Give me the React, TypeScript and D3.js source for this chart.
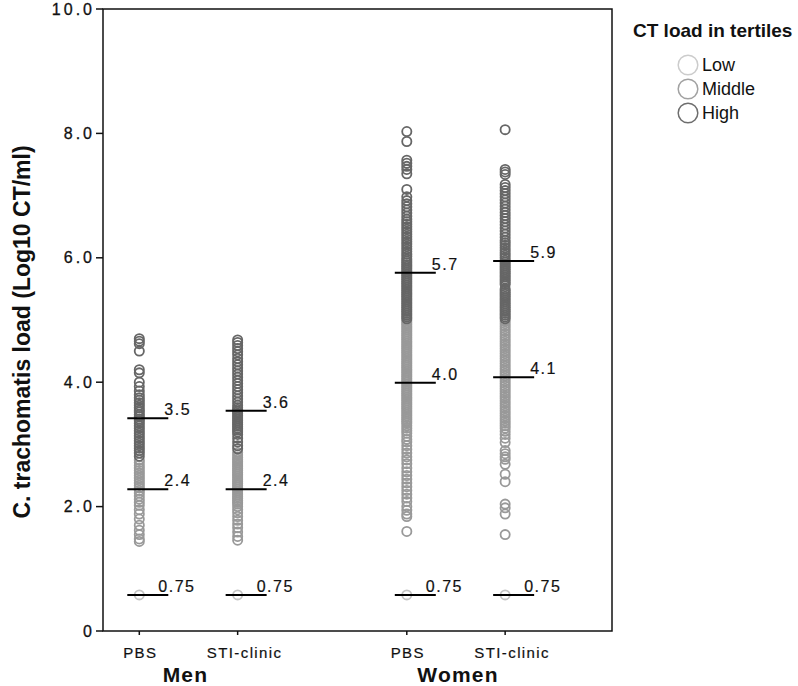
import React from "react";
import * as d3 from "d3";

// ---------- data ----------
const sexes = ["Men", "Women"];
const sites = ["PBS", "STI-clinic"];
const tertiles = ["Low", "Middle", "High"];
const yTicks = [0, 2, 4, 6, 8, 10];

const menPbsLow = [0.58];
const menPbsMid = [2.75, 2.71, 2.66, 2.62, 2.58, 2.54, 2.5, 2.46, 2.42, 2.38, 2.34, 2.3, 2.26, 2.22, 2.17, 2.12, 2.07, 2.02, 1.95, 1.88, 1.8, 1.7, 1.62, 1.55, 1.48, 1.44];
const menPbsHigh = [4.7, 4.66, 4.62, 4.5, 4.2, 4.15, 4.0, 3.93, 3.86, 3.8, 3.75, 3.71, 3.67, 3.63, 3.59, 3.55, 3.52, 3.48, 3.45, 3.41, 3.38, 3.34, 3.3, 3.26, 3.22, 3.18, 3.14, 3.1, 3.06, 3.02, 2.98, 2.94, 2.9, 2.86, 2.81];

const menStiLow = [0.58];
const menStiMid = [2.87, 2.83, 2.79, 2.76, 2.73, 2.7, 2.67, 2.64, 2.61, 2.58, 2.55, 2.52, 2.49, 2.46, 2.43, 2.4, 2.37, 2.34, 2.31, 2.28, 2.25, 2.22, 2.19, 2.16, 2.13, 2.1, 2.07, 2.04, 2.0, 1.95, 1.9, 1.84, 1.78, 1.72, 1.66, 1.59, 1.52, 1.46];
const menStiHigh = [4.68, 4.64, 4.59, 4.54, 4.49, 4.44, 4.38, 4.33, 4.28, 4.23, 4.18, 4.13, 4.08, 4.03, 3.98, 3.93, 3.88, 3.83, 3.78, 3.73, 3.68, 3.63, 3.59, 3.56, 3.53, 3.5, 3.47, 3.44, 3.41, 3.38, 3.35, 3.32, 3.29, 3.26, 3.23, 3.2, 3.16, 3.1, 3.04, 2.98, 2.93];

const womenPbsLow = [0.58];
const womenPbsMid = [4.99, 4.96, 4.93, 4.9, 4.87, 4.84, 4.81, 4.78, 4.75, 4.72, 4.69, 4.66, 4.63, 4.6, 4.57, 4.54, 4.51, 4.48, 4.45, 4.42, 4.39, 4.36, 4.33, 4.3, 4.27, 4.24, 4.21, 4.18, 4.15, 4.12, 4.09, 4.06, 4.03, 4.0, 3.97, 3.94, 3.91, 3.88, 3.85, 3.82, 3.79, 3.76, 3.73, 3.7, 3.67, 3.64, 3.61, 3.58, 3.55, 3.52, 3.49, 3.46, 3.43, 3.4, 3.37, 3.34, 3.3, 3.26, 3.22, 3.18, 3.13, 3.08, 3.04, 2.98, 2.92, 2.86, 2.8, 2.75, 2.69, 2.62, 2.56, 2.5, 2.44, 2.38, 2.32, 2.26, 2.2, 2.14, 2.08, 2.0, 1.94, 1.88, 1.84, 1.6];
const womenPbsHigh = [8.03, 7.87, 7.57, 7.52, 7.47, 7.42, 7.35, 7.1, 6.98, 6.92, 6.87, 6.82, 6.77, 6.72, 6.67, 6.62, 6.58, 6.54, 6.5, 6.46, 6.42, 6.38, 6.34, 6.3, 6.26, 6.22, 6.18, 6.14, 6.1, 6.06, 6.02, 5.98, 5.95, 5.92, 5.89, 5.86, 5.83, 5.8, 5.77, 5.74, 5.71, 5.68, 5.65, 5.62, 5.59, 5.56, 5.53, 5.5, 5.47, 5.44, 5.41, 5.38, 5.35, 5.32, 5.29, 5.26, 5.23, 5.2, 5.17, 5.14, 5.11, 5.08, 5.05, 5.02];

const womenStiLow = [0.58];
const womenStiMid = [4.98, 4.94, 4.9, 4.86, 4.82, 4.78, 4.74, 4.7, 4.66, 4.62, 4.58, 4.54, 4.5, 4.46, 4.42, 4.38, 4.34, 4.3, 4.26, 4.22, 4.18, 4.14, 4.1, 4.06, 4.02, 3.98, 3.94, 3.9, 3.86, 3.82, 3.78, 3.74, 3.7, 3.66, 3.62, 3.58, 3.54, 3.5, 3.46, 3.42, 3.38, 3.34, 3.3, 3.26, 3.21, 3.16, 3.1, 3.03, 2.9, 2.85, 2.8, 2.76, 2.68, 2.52, 2.4, 2.04, 1.98, 1.88, 1.55];
const womenStiHigh = [8.06, 7.42, 7.38, 7.34, 7.18, 7.13, 7.08, 7.03, 6.98, 6.93, 6.88, 6.83, 6.78, 6.73, 6.68, 6.63, 6.58, 6.53, 6.48, 6.43, 6.38, 6.33, 6.28, 6.24, 6.2, 6.16, 6.12, 6.08, 6.04, 6.0, 5.96, 5.93, 5.9, 5.87, 5.84, 5.81, 5.78, 5.75, 5.72, 5.69, 5.66, 5.63, 5.6, 5.57, 5.5, 5.47, 5.44, 5.41, 5.38, 5.35, 5.32, 5.29, 5.26, 5.23, 5.2, 5.17, 5.14, 5.11, 5.08, 5.05, 5.02];

const menPbsLines = [3.42, 2.28, 0.58];
const menPbsLabels = ["3.5", "2.4", "0.75"];
const menStiLines = [3.54, 2.28, 0.58];
const menStiLabels = ["3.6", "2.4", "0.75"];
const womenPbsLines = [5.76, 3.99, 0.58];
const womenPbsLabels = ["5.7", "4.0", "0.75"];
const womenStiLines = [5.95, 4.08, 0.58];
const womenStiLabels = ["5.9", "4.1", "0.75"];

const groups = [
  { sex: "Men", site: "PBS", Low: menPbsLow, Middle: menPbsMid, High: menPbsHigh, lines: menPbsLines, labels: menPbsLabels },
  { sex: "Men", site: "STI-clinic", Low: menStiLow, Middle: menStiMid, High: menStiHigh, lines: menStiLines, labels: menStiLabels },
  { sex: "Women", site: "PBS", Low: womenPbsLow, Middle: womenPbsMid, High: womenPbsHigh, lines: womenPbsLines, labels: womenPbsLabels },
  { sex: "Women", site: "STI-clinic", Low: womenStiLow, Middle: womenStiMid, High: womenStiHigh, lines: womenStiLines, labels: womenStiLabels },
];

// ---------- layout ----------
const W = 798;
const H = 686;
const left = 103;
const right = 612;
const top = 9;
const bottom = 631;
const FONT = "'Liberation Sans', Arial, sans-serif";

const colors: Record<string, string> = { Low: "#c4c4c4", Middle: "#999999", High: "#666666" };
const legendColors: Record<string, string> = { Low: "#cccccc", Middle: "#a2a2a2", High: "#6e6e6e" };

export default function App() {
  const y = d3.scaleLinear().domain([0, 10]).range([bottom, top]);
  const outer = d3.scaleBand().domain(sexes).range([left, right]).paddingInner(0.5).paddingOuter(0.2014).align(0.1726);
  const inner = d3.scalePoint().domain(sites).range([0, outer.bandwidth()]).padding(0.18);
  const xPos = (sex: string, site: string) => (outer(sex) as number) + (inner(site) as number);

  return (
    <div style={{ position: "absolute", left: 0, top: 0 }}>
      <svg width={W} height={H} style={{ display: "block", background: "#fff" }} fontFamily={FONT}>
        {/* frame */}
        <rect x={left} y={top} width={right - left} height={bottom - top} fill="none" stroke="#111" strokeWidth={1.5} />

        {/* y ticks */}
        {yTicks.map((t) => (
          <g key={t}>
            <line x1={left - 7} x2={left} y1={y(t)} y2={y(t)} stroke="#111" strokeWidth={1.5} />
            <text x={95} y={y(t) + 5.5} textAnchor="end" fontSize={16} letterSpacing={3} fill="#111" stroke="#111" strokeWidth={0.3}>
              {t === 0 ? "0" : d3.format(".1f")(t)}
            </text>
          </g>
        ))}

        {/* y title */}
        <text transform={`translate(30,${(140 + 524) / 2}) rotate(-90)`} textAnchor="middle" fontSize={23} fontWeight="bold" fill="#111">
          C. trachomatis load (Log10 CT/ml)
        </text>

        {/* x ticks and labels */}
        {groups.map((g) => {
          const x = xPos(g.sex, g.site);
          return (
            <g key={g.sex + g.site}>
              <line x1={x} x2={x} y1={bottom} y2={bottom + 4} stroke="#111" strokeWidth={1.5} />
              <text x={x} dx={g.site.length > 3 ? 7 : 1} y={658} textAnchor="middle" fontSize={15} letterSpacing={1.4} fill="#111" stroke="#111" strokeWidth={0.2}>
                {g.site}
              </text>
            </g>
          );
        })}
        {sexes.map((s, i) => (
          <text key={s} x={(outer(s) as number) + outer.bandwidth() / 2} dx={i === 0 ? -3 : 2} y={682} textAnchor="middle" fontSize={21} fontWeight="bold" letterSpacing={1.2} fill="#111">
            {s}
          </text>
        ))}

        {/* points */}
        {groups.map((g) => {
          const x = xPos(g.sex, g.site);
          return (
            <g key={"p" + g.sex + g.site}>
              {tertiles.map((tt) =>
                (g as any)[tt].map((v: number, i: number) => (
                  <circle key={tt + i} cx={x} cy={y(v)} r={4.6} fill="none" stroke={colors[tt]} strokeWidth={1.8} />
                ))
              )}
            </g>
          );
        })}

        {/* median lines */}
        {groups.map((g) => {
          const x = xPos(g.sex, g.site);
          return (
            <g key={"m" + g.sex + g.site}>
              {g.lines.map((v, i) => (
                <g key={i}>
                  <line x1={x - 12} x2={x + 29} y1={y(v)} y2={y(v)} stroke="#000" strokeWidth={2} />
                  <text x={x + (g.labels[i].length > 3 ? 19 : 25)} y={y(v) - 3} fontSize={16} letterSpacing={1.5} fill="#111" stroke="#111" strokeWidth={0.2}>
                    {g.labels[i]}
                  </text>
                </g>
              ))}
            </g>
          );
        })}

        {/* legend */}
        <text x={633} y={37} fontSize={19} fontWeight="bold" fill="#111">CT load in tertiles</text>
        {tertiles.map((tt, i) => (
          <g key={tt}>
            <circle cx={688} cy={65 + i * 24} r={9.8} fill="none" stroke={legendColors[tt]} strokeWidth={1.5} />
            <text x={702} y={71 + i * 24} fontSize={18} fill="#111">{tt}</text>
          </g>
        ))}
      </svg>
    </div>
  );
}
